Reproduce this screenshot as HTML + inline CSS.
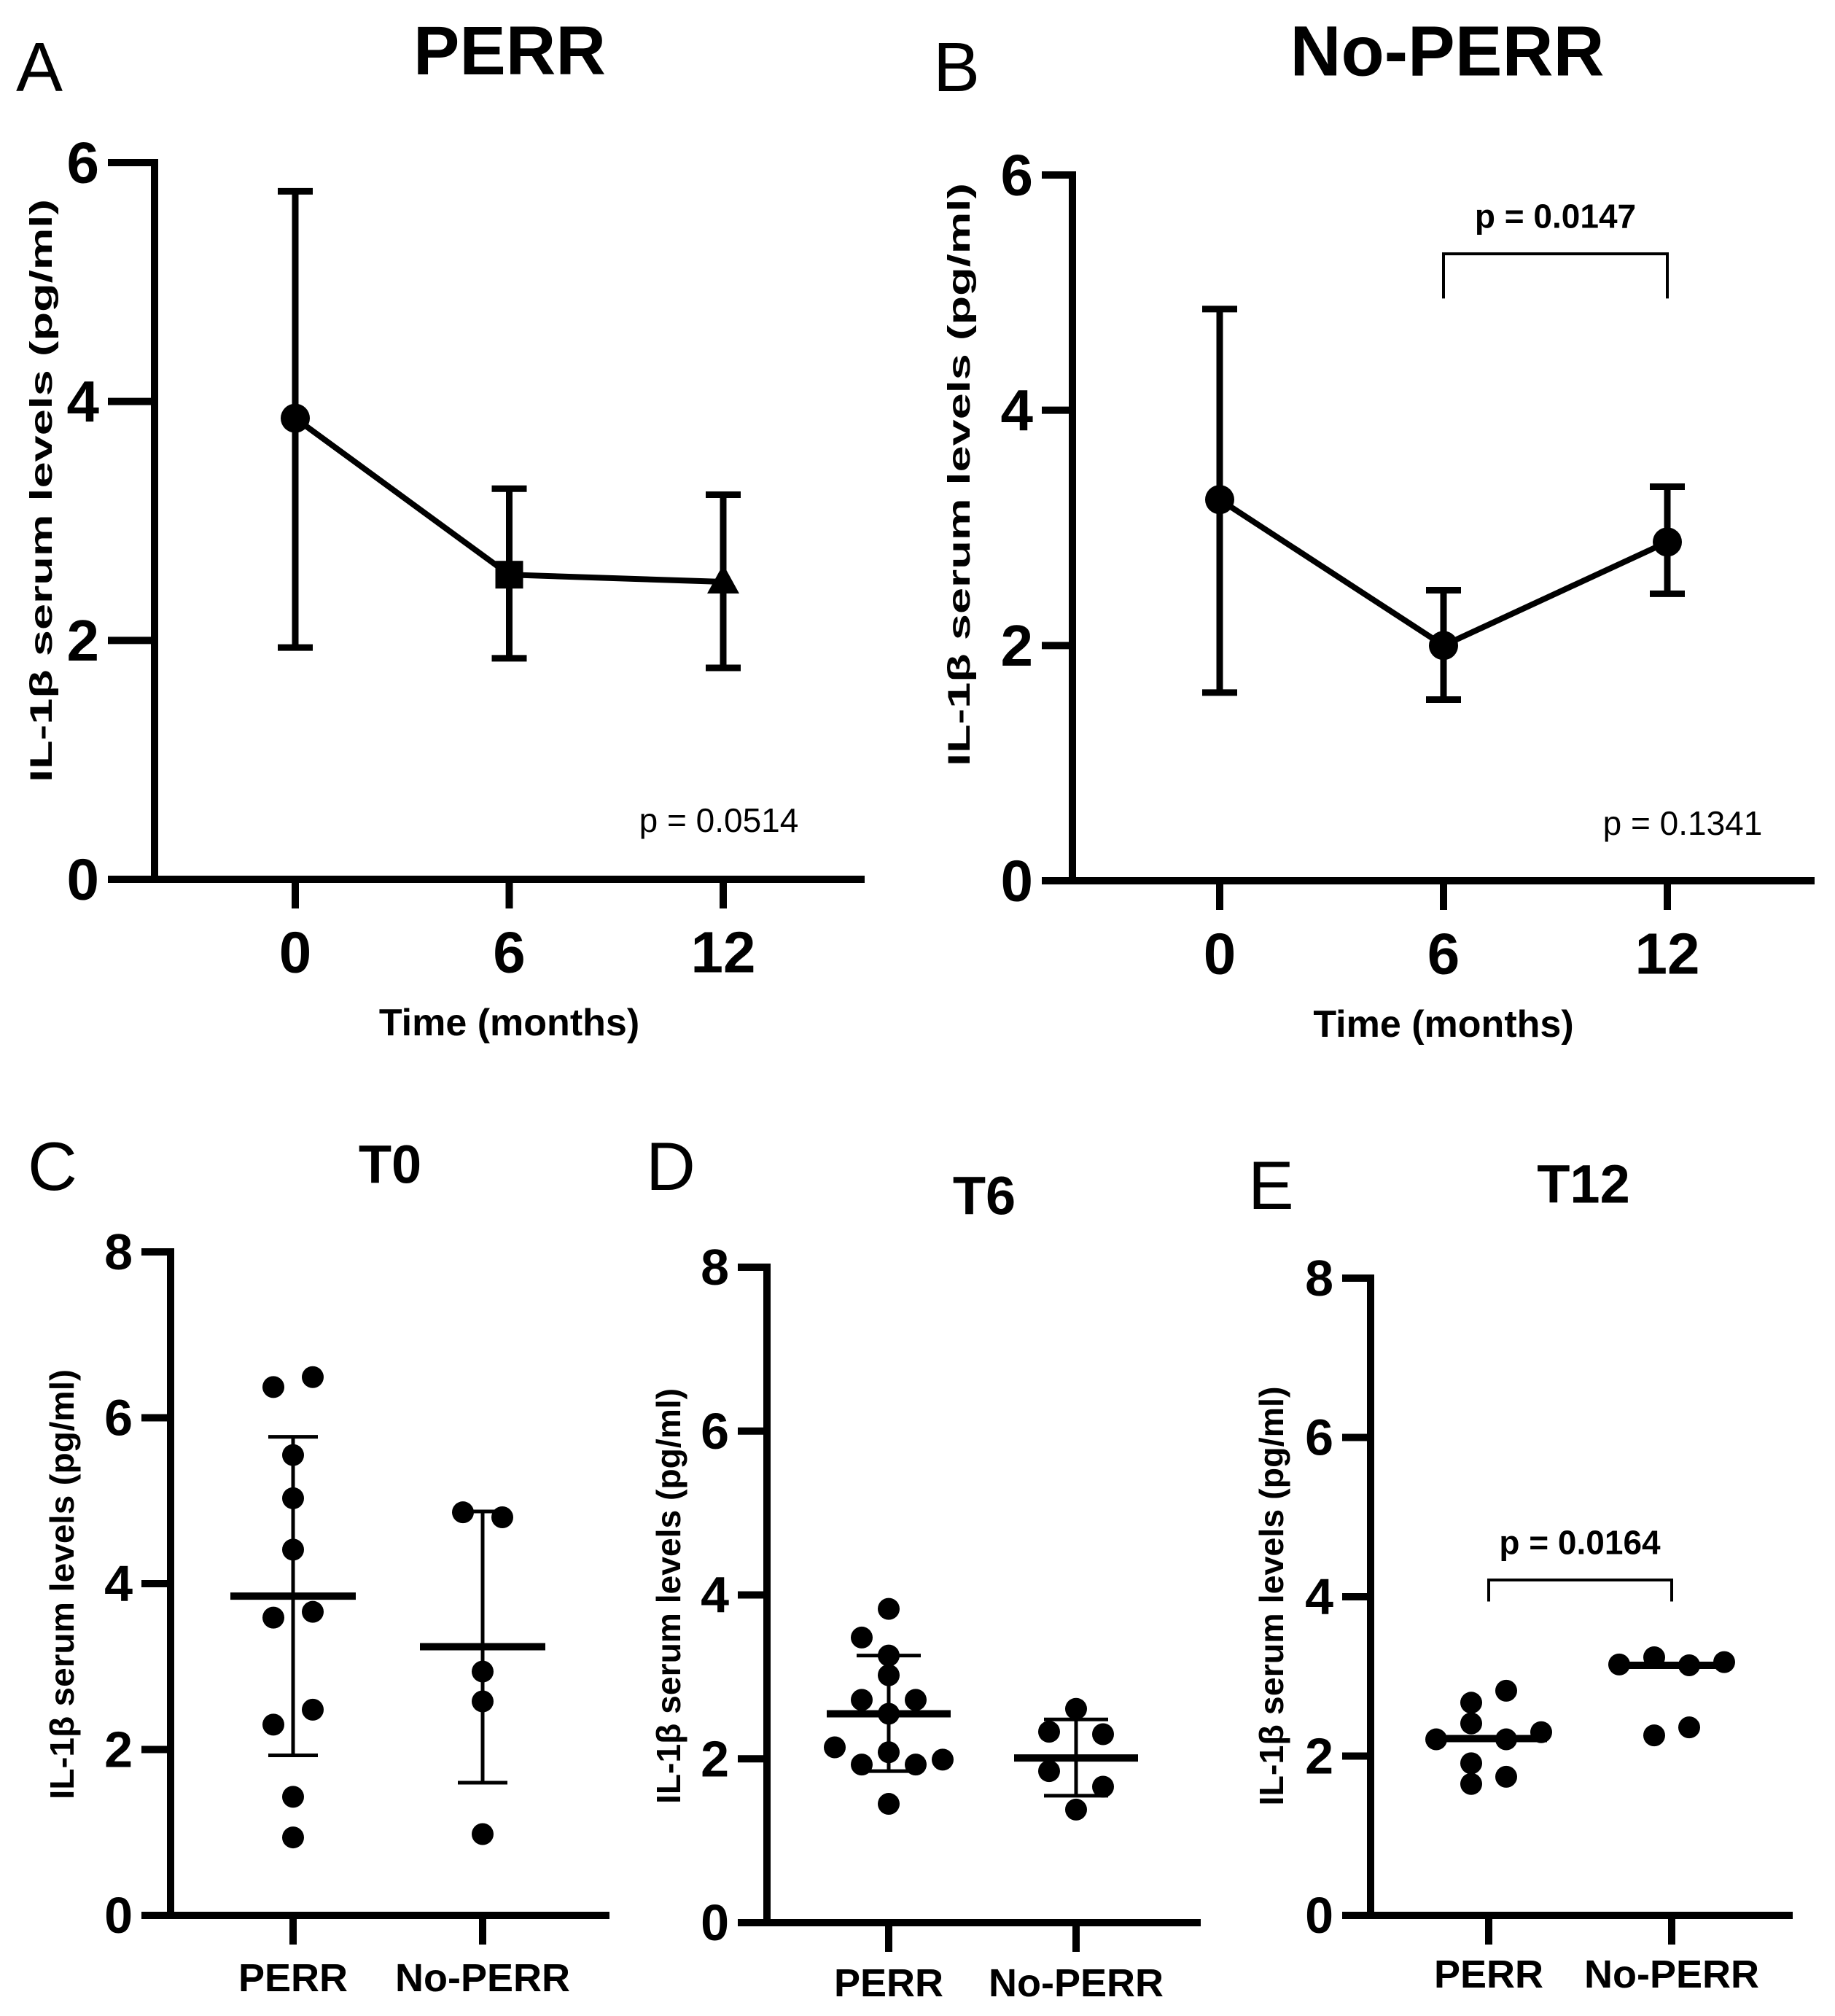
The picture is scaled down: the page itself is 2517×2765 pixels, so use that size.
<!DOCTYPE html>
<html><head><meta charset="utf-8"><style>
html,body{margin:0;padding:0;background:#fff;}
svg{display:block;font-family:"Liberation Sans",Arial,sans-serif;}
</style></head><body>
<svg id="fig" width="2517" height="2765" viewBox="0 0 2517 2765" xmlns="http://www.w3.org/2000/svg"></svg>
<script>
// ---------- Data ----------
const monthsAB = [0, 6, 12];
const meanA = [3.86, 2.55, 2.49];
const lowA  = [1.94, 1.85, 1.77];
const highA = [5.76, 3.27, 3.22];
const meanB = [3.24, 2.00, 2.88];
const lowB  = [1.60, 1.54, 2.44];
const highB = [4.86, 2.47, 3.35];
const ticksAB = [0, 2, 4, 6];
const ticksCDE = [0, 2, 4, 6, 8];
const groups = ["PERR", "No-PERR"];

const cPerr = [6.37, 6.49, 5.55, 5.03, 4.41, 3.59, 3.66, 2.48, 2.30, 1.43, 0.94];
const cNo   = [4.86, 4.80, 2.94, 2.58, 0.98];
const cMean = [3.85, 3.24];
const cLow  = [1.93, 1.60];
const cHigh = [5.77, 4.87];

const dPerr = [3.83, 3.48, 3.26, 3.02, 2.72, 2.72, 2.55, 2.14, 2.08, 1.99, 1.93, 1.93, 1.45];
const dNo   = [2.61, 2.33, 2.30, 1.85, 1.66, 1.38];
const dMean = [2.55, 2.01];
const dLow  = [1.85, 1.55];
const dHigh = [3.26, 2.48];

const ePerr = [2.82, 2.67, 2.41, 2.21, 2.21, 2.30, 1.91, 1.74, 1.65];
const eNo   = [3.15, 3.24, 3.14, 3.18, 2.26, 2.36];
const eMedian = [2.22, 3.14];

// jitter slots (layout of swarm, not data)
const cPerrSlot = [-1,1,0,0,0,-1,1,1,-1,0,0];
const cNoSlot   = [-1,1,0,0,0];
const dPerrSlot = [0,-1,0,0,-1,1,0,-2,0,2,-1,1,0];
const dNoSlot   = [0,-1,1,-1,1,0];
const ePerrSlot = [1,-1,-1,-3,1,3,-1,1,-1];
const eNoSlot   = [-3,-1,1,3,-1,1];

// ---------- Helpers ----------
const svg = document.getElementById('fig');
const NS = 'http://www.w3.org/2000/svg';
function mk(tag, attrs, parent) {
  const el = document.createElementNS(NS, tag);
  for (const k in attrs) el.setAttribute(k, attrs[k]);
  (parent || svg).appendChild(el);
  return el;
}
function line(x1,y1,x2,y2,w,p){return mk('line',{x1:x1,y1:y1,x2:x2,y2:y2,stroke:'#000','stroke-width':w},p);}
function txt(x,y,s,size,weight,anchor,p){
  const t = mk('text',{x:x,y:y,'font-size':size,'font-weight':weight,'text-anchor':anchor||'middle','dominant-baseline':'central',fill:'#000'},p);
  t.textContent = s; return t;
}

function axes(cfg, g) {
  const ys = v => cfg.y0 - (cfg.y0 - cfg.yTop) * v / cfg.vmax;
  const ax = line(cfg.ax, cfg.yTop - 5, cfg.ax, cfg.y0 + 5, 10, g);
  
  
  const bx = line(cfg.xl, cfg.y0, cfg.xr, cfg.y0, 10, g);
  
  
  cfg.ticks.forEach(v => {
    const tk = line(cfg.xl, ys(v), cfg.ax, ys(v), 10, g);
    
    
    const tl = txt(cfg.xl - 12, ys(v), String(v), cfg.tickFs, 'bold', 'end', g);
    
    
  });
  const yt = txt(0, 0, 'IL-1β serum levels (pg/ml)', cfg.ytFs, 'bold', 'middle', g);
  yt.setAttribute('transform', `translate(${cfg.ytX},${cfg.ytY}) rotate(-90)`);
  yt.setAttribute('textLength', cfg.ytLen);
  yt.setAttribute('lengthAdjust', 'spacingAndGlyphs');
  
  
  return ys;
}

// ---------- Panels A & B ----------
function linePanel(cfg, means, lows, highs, markers) {
  const g = mk('g', {});
  
  
  const ys = axes(cfg, g);
  const xs = m => cfg.x0 + (cfg.x12 - cfg.x0) * m / 12;
  monthsAB.forEach(m => {
    const tk = line(xs(m), cfg.y0, xs(m), cfg.y0 + 40, 10, g);
    
    
    const tl = txt(xs(m), cfg.y0 + 100, String(m), 80, 'bold', 'middle', g);
    
    
  });
  const xt = txt(xs(6), cfg.y0 + 197, 'Time (months)', 52, 'bold', 'middle', g);
  
  
  monthsAB.forEach((m, i) => {
    const eb = mk('path', {d:`M${xs(m)-24},${ys(highs[i])}H${xs(m)+24}M${xs(m)},${ys(highs[i])}V${ys(lows[i])}M${xs(m)-24},${ys(lows[i])}H${xs(m)+24}`, stroke:'#000','stroke-width':9, fill:'none'}, g);
    
    
  });
  const pts = monthsAB.map((m, i) => `${xs(m)},${ys(means[i])}`).join(' ');
  const pl = mk('polyline', {points: pts, fill:'none', stroke:'#000', 'stroke-width':8}, g);
  
  
  monthsAB.forEach((m, i) => {
    const x = xs(m), y = ys(means[i]);
    let el;
    if (markers[i] === 'sq') el = mk('rect', {x:x-19, y:y-19, width:38, height:38, fill:'#000'}, g);
    else if (markers[i] === 'tri') el = mk('polygon', {points:`${x},${y-24} ${x+22},${y+16} ${x-22},${y+16}`, fill:'#000'}, g);
    else el = mk('circle', {cx:x, cy:y, r:20, fill:'#000'}, g);
    
    
  });
  return {g, xs, ys};
}

const A = linePanel({name:'panel-a', ax:212, y0:1206, yTop:223, vmax:6, xl:148, xr:1186, x0:405, x12:992,
  ticks:ticksAB, tickFs:80, ytFs:43, ytLen:800, ytX:57, ytY:673}, meanA, lowA, highA, ['c','sq','tri']);
const B = linePanel({name:'panel-b', ax:1471, y0:1208, yTop:240, vmax:6, xl:1429, xr:2489, x0:1673, x12:2287,
  ticks:ticksAB, tickFs:80, ytFs:43, ytLen:800, ytX:1316, ytY:651}, meanB, lowB, highB, ['c','c','c']);

let t;
t = txt(699, 70, 'PERR', 95, 'bold', 'middle');  
t = txt(1985, 70, 'No-PERR', 97, 'bold', 'middle');  
t = mk('text',{x:22,y:125,'font-size':96,fill:'#000'}); t.textContent='A';  
t = mk('text',{x:1280,y:125,'font-size':96,fill:'#000'}); t.textContent='B';  
t = txt(986, 1125, 'p = 0.0514', 46, 'normal', 'middle');  
t = txt(2308, 1129, 'p = 0.1341', 46, 'normal', 'middle');  
t = mk('path',{d:`M${B.xs(6)},${B.ys(4.95)}V${B.ys(5.33)}H${B.xs(12)}V${B.ys(4.95)}`,fill:'none',stroke:'#000','stroke-width':4});
 
t = txt(B.xs(9), B.ys(5.65), 'p = 0.0147', 46, 'bold', 'middle');  

// ---------- Panels C, D, E ----------
function scatterPanel(cfg, sets, slots, stats) {
  const g = mk('g', {});
  
  
  const ys = axes(cfg, g);
  groups.forEach((lab, i) => {
    const x = cfg.cats[i];
    const tk = line(x, cfg.y0, x, cfg.y0 + 40, 10, g);
    
    
    const tl = txt(x, cfg.labY, lab, 54, 'bold', 'middle', g);
    
    
  });
  sets.forEach((vals, i) => {
    vals.forEach((v, j) => {
      const c = mk('circle', {cx: cfg.cats[i] + slots[i][j] * cfg.jit, cy: ys(v), r: 15, fill:'#000'}, g);
      
      
    });
  });
  groups.forEach((lab, i) => {
    const x = cfg.cats[i];
    const m = line(x - cfg.mh, ys(stats.mean[i]), x + cfg.mh, ys(stats.mean[i]), 10, g);
    
    
    if (stats.low) {
      const e = mk('path', {d:`M${x-cfg.ch},${ys(stats.high[i])}H${x+cfg.ch}M${x},${ys(stats.high[i])}V${ys(stats.low[i])}M${x-cfg.ch},${ys(stats.low[i])}H${x+cfg.ch}`, stroke:'#000','stroke-width':5, fill:'none'}, g);
      
      
    }
  });
  return {g, ys};
}

const C = scatterPanel({name:'panel-c', ax:234, y0:2627, yTop:1717, vmax:8, xl:194, xr:836, cats:[402,662], jit:27,
  ticks:ticksCDE, tickFs:70, ytFs:46, ytLen:590, ytX:85, ytY:2173, labY:2713, mh:86, ch:34},
  [cPerr, cNo], [cPerrSlot, cNoSlot], {mean:cMean, low:cLow, high:cHigh});
const D = scatterPanel({name:'panel-d', ax:1052, y0:2637, yTop:1738, vmax:8, xl:1012, xr:1647, cats:[1219,1476], jit:37,
  ticks:ticksCDE, tickFs:70, ytFs:46, ytLen:570, ytX:917, ytY:2189, labY:2720, mh:85, ch:44},
  [dPerr, dNo], [dPerrSlot, dNoSlot], {mean:dMean, low:dLow, high:dHigh});
const E = scatterPanel({name:'panel-e', ax:1880, y0:2627, yTop:1753, vmax:8, xl:1841, xr:2459, cats:[2042,2293], jit:24,
  ticks:ticksCDE, tickFs:70, ytFs:46, ytLen:575, ytX:1744, ytY:2189, labY:2708, mh:80, ch:0},
  [ePerr, eNo], [ePerrSlot, eNoSlot], {mean:eMedian});

t = txt(535, 1597, 'T0', 74, 'bold', 'middle');  
t = txt(1350, 1640, 'T6', 74, 'bold', 'middle');  
t = txt(2172, 1624, 'T12', 74, 'bold', 'middle');  
t = mk('text',{x:38,y:1632,'font-size':94,fill:'#000'}); t.textContent='C';  
t = mk('text',{x:886,y:1632,'font-size':94,fill:'#000'}); t.textContent='D';  
t = mk('text',{x:1712,y:1658,'font-size':94,fill:'#000'}); t.textContent='E';  
t = mk('path',{d:`M2042,${E.ys(3.94)}V${E.ys(4.21)}H2293V${E.ys(3.94)}`,fill:'none',stroke:'#000','stroke-width':4});
 
t = txt(2167, E.ys(4.68), 'p = 0.0164', 46, 'bold', 'middle');  
</script>
</body></html>
